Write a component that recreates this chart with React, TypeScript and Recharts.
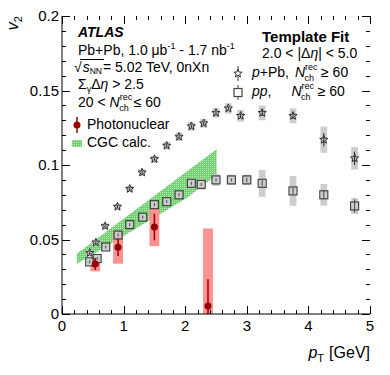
import React from 'react';
import {
  ComposedChart,
  XAxis,
  YAxis,
  Scatter,
  Area,
  ErrorBar,
  ReferenceArea,
} from 'recharts';

// p+Pb, template fit (open stars)
const PPB_PT = [0.45, 0.55, 0.7, 0.9, 1.1, 1.3, 1.5, 1.7, 1.9, 2.1, 2.3, 2.5, 2.7, 2.9, 3.25, 3.75, 4.25, 4.75];
const PPB_V2 = [0.041, 0.048, 0.059, 0.072, 0.084, 0.095, 0.104, 0.113, 0.119, 0.126, 0.128, 0.135, 0.138, 0.133, 0.135, 0.133, 0.117, 0.1045];
const PPB_STAT = [0.001, 0.001, 0.001, 0.001, 0.001, 0.001, 0.001, 0.001, 0.001, 0.001, 0.001, 0.001, 0.001, 0.0015, 0.002, 0.002, 0.0045, 0.0045];
const PPB_SYS = [0.002, 0.002, 0.002, 0.002, 0.002, 0.0022, 0.0023, 0.0025, 0.0027, 0.003, 0.003, 0.0032, 0.0035, 0.004, 0.005, 0.005, 0.0088, 0.0075];

// pp, template fit (open squares)
const PP_PT = [0.45, 0.57, 0.71, 0.91, 1.1, 1.31, 1.5, 1.7, 1.9, 2.1, 2.26, 2.5, 2.75, 3.0, 3.25, 3.75, 4.25, 4.75];
const PP_V2 = [0.035, 0.0372, 0.045, 0.053, 0.06, 0.065, 0.0734, 0.0754, 0.08, 0.0877, 0.087, 0.09, 0.09, 0.09, 0.0877, 0.0826, 0.08, 0.0725];
const PP_STAT = [0.001, 0.001, 0.001, 0.001, 0.001, 0.001, 0.001, 0.001, 0.001, 0.001, 0.001, 0.001, 0.001, 0.0015, 0.002, 0.002, 0.003, 0.0045];
const PP_SYS = [0.002, 0.002, 0.002, 0.002, 0.002, 0.002, 0.0022, 0.0022, 0.0025, 0.0035, 0.0035, 0.004, 0.0035, 0.0035, 0.009, 0.01, 0.0073, 0.0054];

// photonuclear Pb+Pb
const PN_PT = [0.54, 0.91, 1.5, 2.37];
const PN_V2 = [0.0336, 0.0448, 0.0584, 0.0054];
const PN_STAT = [0.004, 0.0058, 0.0089, 0.018];
const PN_SYS = [0.005, 0.011, 0.0128, 0.052];

// CGC calculation band
const CGC_PT = [0.24, 2.02, 2.51];
const CGC_LO = [0.0335, 0.0777, 0.0933];
const CGC_HI = [0.0405, 0.0955, 0.1105];

// axis ticks: every 0.2 in pT and 0.01 in v2, labels on every 5th
const X_TICKS = Array.from({ length: 26 }, (_, i) => Math.round(i * 2) / 10);
const Y_TICKS = Array.from({ length: 21 }, (_, i) => i / 100);
const X_DOMAIN = [0, 5];
const Y_DOMAIN = [0, 0.2];

const W = 382;
const H = 367;
const MARGIN = { top: 8, right: 20, left: 0, bottom: 0 };
const Y_AXIS_W = 54;
const X_AXIS_H = 61;
const FONT = '"Liberation Sans", Arial, Helvetica, sans-serif';
const GRAY_BOX = '#cdcdcd';
const PINK_BOX = '#fb9191';
const DARK_RED = '#990000';

const ppbData = PPB_PT.map((x, i) => ({ x, y: PPB_V2[i], err: PPB_STAT[i] }));
const ppData = PP_PT.map((x, i) => ({ x, y: PP_V2[i], err: PP_STAT[i] }));
// lower error clipped at the frame (v2 = 0)
const pnData = PN_PT.map((x, i) => ({ x, y: PN_V2[i], err: [Math.min(PN_STAT[i], PN_V2[i]), PN_STAT[i]] }));
const cgcData = CGC_PT.map((x, i) => ({ x, band: [CGC_LO[i], CGC_HI[i]] }));

const isMajorX = (v: number) => Math.abs(v - Math.round(v)) < 1e-6;
const isMajorY = (v: number) => Math.round(v * 100) % 5 === 0;

const BottomLabel = (p: any) => {
  const v = p.payload.value;
  if (!isMajorX(v)) return <g />;
  return (
    <text x={p.x} y={p.y + 6} dy="0.71em" textAnchor="middle" fontSize={15} fontFamily={FONT} fill="#000">
      {v}
    </text>
  );
};
const LeftLabel = (p: any) => {
  const v = p.payload.value;
  if (!isMajorY(v)) return <g />;
  return (
    <text x={p.x - 3} y={p.y} dy="0.355em" textAnchor="end" fontSize={15} fontFamily={FONT} fill="#000">
      {v}
    </text>
  );
};

// ROOT style inward ticks on all four sides of the frame (page pixels, body margin 8)
const frameTicks = () => {
  const left = 8 + MARGIN.left + Y_AXIS_W;
  const right = 8 + W - MARGIN.right;
  const top = 8 + MARGIN.top;
  const bottom = 8 + H - MARGIN.bottom - X_AXIS_H;
  const sx = (v: number) => left + ((v - X_DOMAIN[0]) / (X_DOMAIN[1] - X_DOMAIN[0])) * (right - left);
  const sy = (v: number) => bottom - ((v - Y_DOMAIN[0]) / (Y_DOMAIN[1] - Y_DOMAIN[0])) * (bottom - top);
  let d = '';
  X_TICKS.forEach((t) => {
    const len = isMajorX(t) ? 8 : 4;
    const x = Math.round(sx(t)) + 0.5;
    d += `M${x},${bottom}v${-len}M${x},${top}v${len}`;
  });
  Y_TICKS.forEach((t) => {
    const len = isMajorY(t) ? 8 : 4;
    const y = Math.round(sy(t)) + 0.5;
    d += `M${left},${y}h${len}M${right},${y}h${-len}`;
  });
  return <path d={d} stroke="#000" strokeWidth={1} fill="none" />;
};

const starPath = (cx: number, cy: number, R = 4.3, r = 1.8) => {
  let d = '';
  for (let k = 0; k < 10; k++) {
    const rad = k % 2 === 0 ? R : r;
    const a = -Math.PI / 2 + (k * Math.PI) / 5;
    d += (k === 0 ? 'M' : 'L') + (cx + rad * Math.cos(a)).toFixed(2) + ',' + (cy + rad * Math.sin(a)).toFixed(2);
  }
  return d + 'Z';
};

const StarShape = (p: any) => <path d={starPath(p.cx, p.cy)} fill="none" stroke="#222" strokeWidth={0.9} />;
const SquareShape = (p: any) => (
  <rect x={p.cx - 4} y={p.cy - 4} width={8} height={8} fill="none" stroke="#444" strokeWidth={1.2} />
);
const DotShape = (p: any) => <circle cx={p.cx} cy={p.cy} r={3.5} fill={DARK_RED} />;

const NRec = ({ dx = 0 }: { dx?: number }) => (
  <>
    <tspan fontStyle="italic" dx={dx}>N</tspan>
    <tspan fontSize={9} dy={-7}>rec</tspan>
    <tspan fontSize={9} dx={-13} dy={10.5}>ch</tspan>
  </>
);

const Overlay = () => (
  <svg
    width={390}
    height={375}
    style={{ position: 'absolute', left: -8, top: -8, pointerEvents: 'none' }}
    fontFamily={FONT}
    fontSize={14}
  >
    <defs>
      <pattern id="cgcLeg" width="2" height="2" patternUnits="userSpaceOnUse">
        <rect width="2" height="2" fill="#72cf72" />
        <rect width="1" height="1" fill="#b9e9b9" />
      </pattern>
    </defs>
    {frameTicks()}
    {/* axis titles */}
    <text x={18} y={16} transform="rotate(-90 18 16)" textAnchor="end" fontSize={16} fontStyle="italic">
      v<tspan fontSize={11} dy={4} fontStyle="normal">2</tspan>
    </text>
    <text x={370} y={358} textAnchor="end" fontSize={16}>
      <tspan fontStyle="italic">p</tspan>
      <tspan fontSize={11} dy={4}>T</tspan>
      <tspan dy={-4} dx={5}>[GeV]</tspan>
    </text>

    {/* left block */}
    <text x={78} y={37} fontWeight="bold" fontStyle="italic">ATLAS</text>
    <text x={78} y={55}>
      Pb+Pb, 1.0 μb<tspan fontSize={9} dy={-6}>-1</tspan>
      <tspan dy={6}> - 1.7 nb</tspan>
      <tspan fontSize={9} dy={-6}>-1</tspan>
    </text>
    <text x={74} y={72}>
      √<tspan fontStyle="italic" dx={1}>s</tspan>
      <tspan fontSize={8.5} dy={2}>NN</tspan>
      <tspan dy={-2} dx={1}>= 5.02 TeV, 0nXn</tspan>
    </text>
    <line x1={80} x2={104} y1={59.5} y2={59.5} stroke="#000" strokeWidth={1} />
    <text x={78} y={89}>
      Σ<tspan fontSize={9} dy={3}>γ</tspan>
      <tspan dy={-3}>Δ</tspan>
      <tspan fontStyle="italic">η</tspan> &gt; 2.5
    </text>
    <text x={78} y={107}>
      20 &lt; <NRec />
      <tspan dx={5} dy={-3.5}>≤ 60</tspan>
    </text>
    <line x1={77} x2={77} y1={117} y2={133} stroke={DARK_RED} strokeWidth={1.5} />
    <circle cx={77} cy={125} r={3.5} fill={DARK_RED} />
    <text x={87} y={129}>Photonuclear</text>
    <rect x={72} y={140} width={10} height={7} fill="url(#cgcLeg)" />
    <text x={87} y={147}>CGC calc.</text>

    {/* right block */}
    <text x={262} y={42} fontWeight="bold" fontSize={15}>Template Fit</text>
    <text x={262} y={58}>
      2.0 &lt; |Δ<tspan fontStyle="italic">η</tspan>| &lt; 5.0
    </text>
    <line x1={238} x2={238} y1={66} y2={81} stroke="#222" strokeWidth={0.9} />
    <path d={starPath(238, 73.5)} fill="#fff" stroke="#222" strokeWidth={0.9} />
    <text x={252} y={77}>
      <tspan fontStyle="italic">p</tspan>+Pb, <NRec dx={2} />
      <tspan dx={7} dy={-3.5}>≥ 60</tspan>
    </text>
    <line x1={238} x2={238} y1={85} y2={100} stroke="#444" strokeWidth={1} />
    <rect x={234} y={88.5} width={8} height={8} fill="#fff" stroke="#444" strokeWidth={1.2} />
    <text x={252} y={96}>
      <tspan fontStyle="italic">pp</tspan>,<NRec dx={20} />
      <tspan dx={7} dy={-3.5}>≥ 60</tspan>
    </text>
  </svg>
);

export default function App() {
  return (
    <div style={{ position: 'relative', width: W, height: H, fontFamily: FONT }}>
      <ComposedChart width={W} height={H} margin={MARGIN}>
        <defs>
          <pattern id="cgcFill" width="2" height="2" patternUnits="userSpaceOnUse">
            <rect width="2" height="2" fill="#72cf72" />
            <rect width="1" height="1" fill="#b9e9b9" />
          </pattern>
        </defs>
        <XAxis
          type="number"
          dataKey="x"
          domain={X_DOMAIN}
          ticks={X_TICKS}
          interval={0}
          allowDataOverflow
          height={X_AXIS_H}
          tickLine={false}
          tickSize={0}
          tickMargin={0}
          axisLine={{ stroke: '#000' }}
          tick={BottomLabel}
        />
        <XAxis
          xAxisId="top"
          orientation="top"
          type="number"
          domain={X_DOMAIN}
          allowDataOverflow
          height={0}
          tick={false}
          tickLine={false}
          axisLine={{ stroke: '#000' }}
        />
        <YAxis
          type="number"
          domain={Y_DOMAIN}
          ticks={Y_TICKS}
          interval={0}
          allowDataOverflow
          width={Y_AXIS_W}
          tickLine={false}
          tickSize={0}
          tickMargin={0}
          axisLine={{ stroke: '#000' }}
          tick={LeftLabel}
        />
        <YAxis
          yAxisId="right"
          orientation="right"
          type="number"
          domain={Y_DOMAIN}
          allowDataOverflow
          width={0}
          tick={false}
          tickLine={false}
          axisLine={{ stroke: '#000' }}
        />

        <Area
          data={cgcData}
          dataKey="band"
          type="linear"
          stroke="none"
          fill="url(#cgcFill)"
          fillOpacity={1}
          isAnimationActive={false}
        />

        {PN_PT.map((x, i) => (
          <ReferenceArea
            key={'pns' + i}
            x1={x - 0.08}
            x2={x + 0.08}
            y1={PN_V2[i] - PN_SYS[i]}
            y2={PN_V2[i] + PN_SYS[i]}
            fill={PINK_BOX}
            fillOpacity={1}
            stroke="none"
            ifOverflow="hidden"
          />
        ))}
        {PPB_PT.map((x, i) => (
          <ReferenceArea
            key={'pbs' + i}
            x1={x - 0.055}
            x2={x + 0.055}
            y1={PPB_V2[i] - PPB_SYS[i]}
            y2={PPB_V2[i] + PPB_SYS[i]}
            fill={GRAY_BOX}
            fillOpacity={1}
            stroke="none"
          />
        ))}
        {PP_PT.map((x, i) => (
          <ReferenceArea
            key={'pps' + i}
            x1={x - 0.055}
            x2={x + 0.055}
            y1={PP_V2[i] - PP_SYS[i]}
            y2={PP_V2[i] + PP_SYS[i]}
            fill={GRAY_BOX}
            fillOpacity={1}
            stroke="none"
          />
        ))}

        <Scatter data={ppbData} dataKey="y" shape={StarShape} isAnimationActive={false}>
          <ErrorBar dataKey="err" direction="y" width={0} stroke="#222" strokeWidth={1} />
        </Scatter>
        <Scatter data={ppData} dataKey="y" shape={SquareShape} isAnimationActive={false}>
          <ErrorBar dataKey="err" direction="y" width={0} stroke="#444" strokeWidth={1} />
        </Scatter>
        <Scatter data={pnData} dataKey="y" shape={DotShape} isAnimationActive={false}>
          <ErrorBar dataKey="err" direction="y" width={0} stroke={DARK_RED} strokeWidth={1.5} />
        </Scatter>
      </ComposedChart>
      <Overlay />
    </div>
  );
}
